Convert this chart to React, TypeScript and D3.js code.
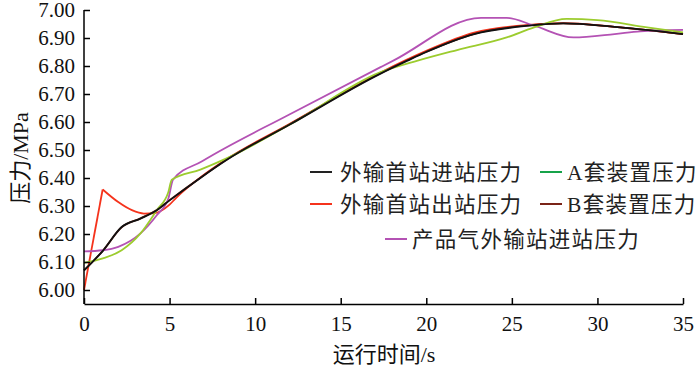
import React, { useEffect, useRef } from 'react';
import * as d3 from 'd3';

// [time s, pressure MPa]
const inletFirst = [
  [0, 6.07], [1.1, 6.14], [2.2, 6.225], [3.3, 6.255], [4.25, 6.285], [5, 6.32],
  [6.8, 6.4], [8.3, 6.463], [12, 6.59], [17.3, 6.772], [18.9, 6.819], [20, 6.85],
  [22.8, 6.914], [26, 6.944], [28, 6.952], [31, 6.94], [33.3, 6.926], [35, 6.914],
];
const outletFirst = [
  [0, 6.0], [1.09, 6.359], [2.0, 6.314], [2.8, 6.285], [3.5, 6.273], [4.15, 6.275],
  [5.0, 6.305], [5.4, 6.33], [6.8, 6.402], [8.3, 6.466], [12, 6.593], [17.3, 6.776],
  [20, 6.854], [22.8, 6.919], [26, 6.947], [28, 6.953], [31, 6.94], [35, 6.914],
];
const unitA = [
  [0, 6.097], [1.1, 6.113], [2.2, 6.142], [3.3, 6.202], [4.25, 6.285], [4.93, 6.35],
  [5.13, 6.394], [6.8, 6.43], [8.3, 6.469], [12, 6.59], [17.3, 6.777], [19.5, 6.819],
  [21.8, 6.857], [24.7, 6.902], [26.3, 6.938], [28.2, 6.968], [30, 6.964], [32.9, 6.938],
  [35, 6.92],
];
const unitB = [
  [0, 6.07], [1.1, 6.14], [2.2, 6.224], [3.3, 6.256], [4.25, 6.286], [5, 6.321],
  [6.8, 6.401], [8.3, 6.464], [12, 6.591], [17.3, 6.773], [20, 6.851], [22.8, 6.915],
  [26, 6.945], [28, 6.952], [31, 6.94], [35, 6.914],
];
const productInlet = [
  [0, 6.138], [1.1, 6.142], [2, 6.154], [3.3, 6.202], [4.25, 6.267], [4.93, 6.327],
  [5.2, 6.394], [6.9, 6.46], [12, 6.627], [17.3, 6.795], [18.1, 6.82], [23.2, 6.972],
  [24.7, 6.972], [26.3, 6.944], [28.6, 6.902], [31, 6.914], [32.5, 6.924], [35, 6.929],
];

const xTicks = [0, 5, 10, 15, 20, 25, 30, 35];
const yTicks = [6.0, 6.1, 6.2, 6.3, 6.4, 6.5, 6.6, 6.7, 6.8, 6.9, 7.0];

// sharpBreak: index where the curve has a sharp corner (drawn as two pieces)
const series = [
  { name: '外输首站出站压力', data: outletFirst, color: '#f5331c', sharpBreak: 1 },
  { name: 'B套装置压力', data: unitB, color: '#7a2418', sharpBreak: 0 },
  { name: '产品气外输站进站压力', data: productInlet, color: '#b452b4', sharpBreak: 0 },
  { name: 'A套装置压力', data: unitA, color: '#9ccc2e', sharpBreak: 0 },
  { name: '外输首站进站压力', data: inletFirst, color: '#111111', sharpBreak: 0 },
];

const legendItems = [
  { name: '外输首站进站压力', color: '#222222', x: 310, y: 172, gap: 30 },
  { name: 'A套装置压力', color: '#16a34a', x: 540, y: 172, gap: 27 },
  { name: '外输首站出站压力', color: '#f5331c', x: 310, y: 204, gap: 30 },
  { name: 'B套装置压力', color: '#7a2418', x: 540, y: 204, gap: 27 },
  { name: '产品气外输站进站压力', color: '#b452b4', x: 385, y: 239, gap: 27 },
];

const FONT = '"Liberation Serif", "Noto Sans CJK SC", serif';

const App = () => {
  const svgRef = useRef<SVGSVGElement>(null);

  useEffect(() => {
    const svg = d3.select(svgRef.current);
    svg.selectAll('*').remove();

    const x = d3.scaleLinear().domain([0, 35]).range([84, 683]);
    const y = d3.scaleLinear().domain([5.95, 7.0]).range([304, 10]);

    const smooth = d3.line<number[]>()
      .x((d) => x(d[0]))
      .y((d) => y(d[1]))
      .curve(d3.curveMonotoneX);
    const straight = d3.line<number[]>()
      .x((d) => x(d[0]))
      .y((d) => y(d[1]));

    series.forEach((s) => {
      const pts = s.data as number[][];
      if (s.sharpBreak > 0) {
        svg.append('path')
          .attr('d', straight(pts.slice(0, s.sharpBreak + 1)))
          .attr('fill', 'none')
          .attr('stroke', s.color)
          .attr('stroke-width', 1.8);
      }
      svg.append('path')
        .attr('d', smooth(pts.slice(s.sharpBreak)))
        .attr('fill', 'none')
        .attr('stroke', s.color)
        .attr('stroke-width', 1.8)
        .attr('stroke-linejoin', 'round');
    });

    const xAxis = svg.append('g')
      .attr('transform', `translate(0,304)`)
      .call(d3.axisBottom(x).tickValues(xTicks).tickSizeInner(-6).tickSizeOuter(0).tickPadding(12));
    xAxis.select('.domain').attr('stroke', '#000').attr('stroke-width', 1.5);
    xAxis.selectAll('line').attr('stroke', '#000').attr('stroke-width', 1.5);
    xAxis.selectAll('text')
      .attr('font-family', FONT)
      .attr('font-size', 21)
      .attr('fill', '#111');

    const yAxis = svg.append('g')
      .attr('transform', `translate(84,0)`)
      .call(d3.axisLeft(y).tickValues(yTicks).tickFormat(d3.format('.2f'))
        .tickSizeInner(-6).tickSizeOuter(0).tickPadding(9));
    yAxis.select('.domain').attr('stroke', '#000').attr('stroke-width', 1.5)
      .attr('d', `M0,304V${y(7.0)}`);
    yAxis.selectAll('line').attr('stroke', '#000').attr('stroke-width', 1.5);
    yAxis.selectAll('text')
      .attr('font-family', FONT)
      .attr('font-size', 21)
      .attr('fill', '#111');

    svg.append('text')
      .attr('transform', `translate(28,158) rotate(-90)`)
      .attr('text-anchor', 'middle')
      .attr('font-family', FONT)
      .attr('font-size', 22)
      .attr('fill', '#111')
      .text('压力/MPa');

    svg.append('text')
      .attr('x', 384)
      .attr('y', 362)
      .attr('text-anchor', 'middle')
      .attr('font-family', FONT)
      .attr('font-size', 22)
      .attr('fill', '#111')
      .text('运行时间/s');

    const lg = svg.append('g');
    legendItems.forEach((it) => {
      lg.append('line')
        .attr('x1', it.x).attr('x2', it.x + 22)
        .attr('y1', it.y).attr('y2', it.y)
        .attr('stroke', it.color)
        .attr('stroke-width', 2);
      lg.append('text')
        .attr('x', it.x + it.gap)
        .attr('y', it.y)
        .attr('dy', '0.35em')
        .attr('font-family', FONT)
        .attr('font-size', 21.5)
        .attr('letter-spacing', 1.3)
        .attr('fill', '#222')
        .text(it.name);
    });
  }, []);

  return (
    <div style={{ position: 'absolute', left: 0, top: 0, width: 700, height: 369, background: '#fff' }}>
      <svg ref={svgRef} width={700} height={369} style={{ display: 'block' }} />
    </div>
  );
};

export default App;
